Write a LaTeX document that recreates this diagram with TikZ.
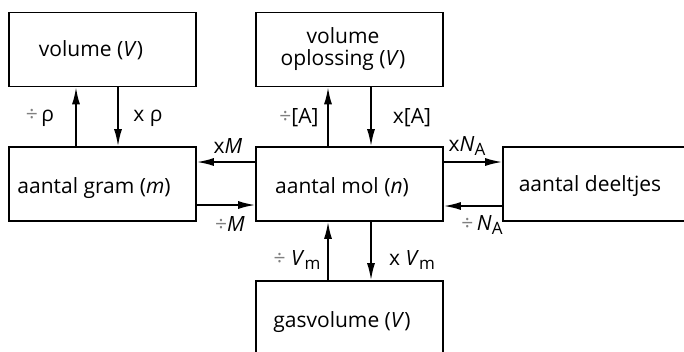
\documentclass[tikz,border=0pt]{standalone}
\usepackage{fontspec}
\setmainfont{Open Sans}
\usetikzlibrary{arrows.meta}
\tikzset{
  box/.style={draw, line width=1.7pt, minimum width=187pt, minimum height=74pt, inner sep=0pt},
  txt/.style={align=center, inner sep=0pt, font=\fontsize{21}{24}\selectfont},
  arr/.style={line width=1.7pt, -{Latex[length=17pt,width=8pt]}},
  lbl/.style={font=\fontsize{21}{24}\selectfont, inner sep=0pt}
}
\newcommand{\dv}{{\color{gray}÷}}
\newcommand{\sbs}[1]{\raisebox{-4pt}{\fontsize{17}{17}\selectfont #1}}
\begin{document}
\begin{tikzpicture}[x=1pt,y=-1pt]
\useasboundingbox (0,0) rectangle (684,351);
\clip (0,0) rectangle (684,351);
\node[box] (vol) at (102.5,49.5) {};
\node[txt] (voltxt) at (91,50) {volume (\textit{V})};
\node[box] (gram) at (102.5,184) {};
\node[txt] (gramtxt) at (94,188) {aantal gram (\textit{m})};
\node[box] (opl) at (349.5,49.5) {};
\node[txt] (opltxt) at (343,49) {volume\\[-2pt]oplossing (\textit{V})};
\node[box] (mol) at (349.5,184) {};
\node[txt] (moltxt) at (342,187) {aantal mol (\textit{n})};
\node[box, minimum width=200pt] (deel) at (603,184) {};
\node[txt] (deeltxt) at (590,186) {aantal deeltjes};
\node[box, minimum height=82pt] (gas) at (349.5,322) {};
\node[txt] (gastxt) at (342,322) {gasvolume (\textit{V})};
% volume <-> gram
\draw[arr] (gram.north -| 76,0) -- (vol.south -| 76,0);
\draw[arr] (vol.south -| 118,0) -- (gram.north -| 118,0);
\node[lbl] (l1) at (40,118) {\dv\,ρ};
\node[lbl] (l2) at (148,118) {x ρ};
% opl <-> mol
\draw[arr] (mol.north -| 328,0) -- (opl.south -| 328,0);
\draw[arr] (opl.south -| 371,0) -- (mol.north -| 371,0);
\node[lbl] (l3) at (299,118) {\dv[A]};
\node[lbl] (l4) at (412,118) {x[A]};
% gram <-> mol
\draw[arr] (mol.west |- 0,162) -- (gram.east |- 0,162);
\draw[arr] (gram.east |- 0,205) -- (mol.west |- 0,205);
\node[lbl] (l5) at (228,146) {x\textit{M}};
\node[lbl] (l6) at (230,224) {\dv\textit{M}};
% mol <-> deeltjes
\draw[arr] (mol.east |- 0,162) -- (deel.west |- 0,162);
\draw[arr] (deel.west |- 0,206) -- (mol.east |- 0,206);
\node[lbl] (l7) at (467,146) {x\textit{N}\sbs{A}};
\node[lbl] (l8) at (482,225) {\dv\,\textit{N}\sbs{A}};
% mol <-> gas
\draw[arr] (gas.north -| 328,0) -- (mol.south -| 328,0);
\draw[arr] (mol.south -| 371,0) -- (gas.north -| 371,0);
\node[lbl] (l9) at (297,260) {\dv\ \textit{V}\sbs{m}};
\node[lbl] (l10) at (412,260) {x \textit{V}\sbs{m}};
\end{tikzpicture}
\end{document}
